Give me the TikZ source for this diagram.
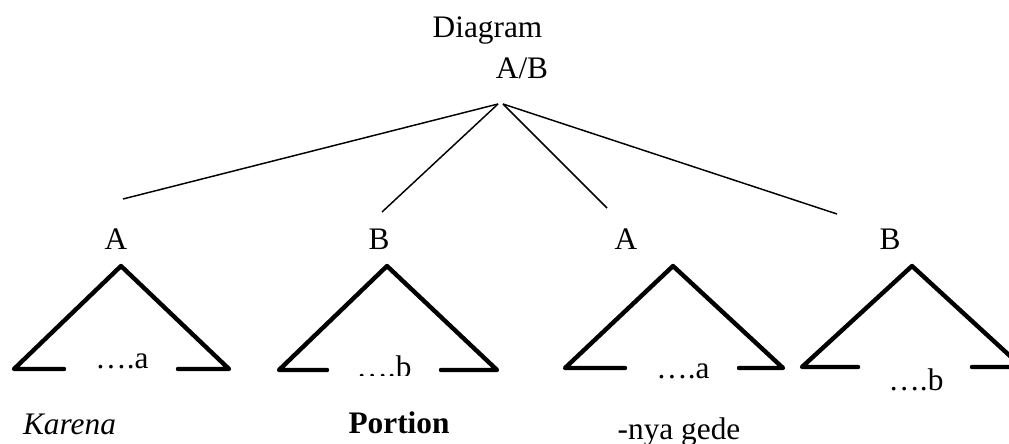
\documentclass[tikz,border=0pt]{standalone}
\usepackage{fontspec}
\setmainfont{Liberation Serif}
\begin{document}
\begin{tikzpicture}[x=0.75pt,y=-0.75pt,
  lbl/.style={anchor=base,inner sep=0pt,font=\fontsize{23.5}{28}\selectfont},
  branch/.style={line width=1.1pt},
  tri/.style={line width=3.3pt,line join=round,line cap=round}]
\useasboundingbox (0,0) rectangle (1009,443);
\clip (0,0) rectangle (1009,443);
% labels
\node[lbl] (diag) at (487.5,37) {Diagram};
\node[lbl] (ab) at (522,78) {A/B};
\node[lbl] (a1) at (116,249) {A};
\node[lbl] (b1) at (379,249) {B};
\node[lbl] (a2) at (626,249) {A};
\node[lbl] (b2) at (890,249) {B};
\node[lbl] (da1) at (122,368) {….a};
\begin{scope}
  \clip (330,330) rectangle (440,375.5);
  \node[lbl] (db1) at (384,377) {….b};
\end{scope}
\node[lbl] (da2) at (683,378) {….a};
\node[lbl] (db2) at (916,390) {….b};
\node[lbl] (karena) at (69.5,434) {\itshape Karena};
\node[lbl] (portion) at (399,433) {\bfseries Portion};
\node[lbl] (nya) at (679,439) {-nya gede};
% branch lines
\coordinate (top1) at (498,104);
\coordinate (top2) at (503,104);
\coordinate (e1) at (123,199);
\coordinate (e2) at (382,212);
\coordinate (e3) at (607,208);
\coordinate (e4) at (837,214);
\draw[branch] (top1) -- (e1);
\draw[branch] (top1) -- (e2);
\draw[branch] (top2) -- (e3);
\draw[branch] (top2) -- (e4);
% triangles
\draw[tri] (64,369) -- (14,369) -- (121,266) -- (229,369) -- (178,369);
\draw[tri] (327,370) -- (279,370) -- (387,266) -- (497,370) -- (441,370);
\draw[tri] (625,368) -- (565,368) -- (673,266) -- (783,368) -- (739,368);
\draw[tri] (858,367) -- (802,367) -- (912,266) -- (1022,367) -- (972,367);
\end{tikzpicture}
\end{document}
